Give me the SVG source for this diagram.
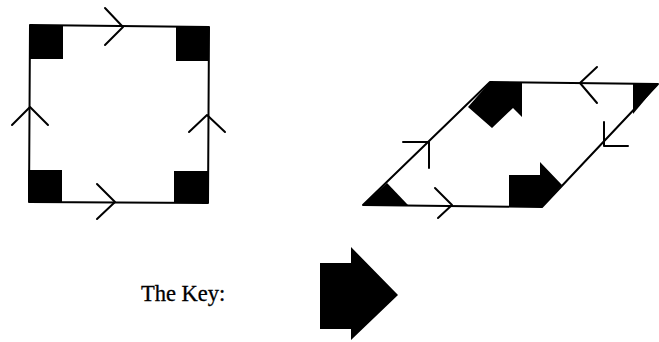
<svg xmlns="http://www.w3.org/2000/svg" width="659" height="342" viewBox="0 0 659 342">
<style>
.edge{fill:none;stroke:#000;stroke-width:2;stroke-linecap:round;stroke-linejoin:round}
.blk{fill:#000;stroke:none}
.lbl{font-family:"Liberation Serif","Times New Roman",serif;font-size:22.5px;fill:#000;stroke:#000;stroke-width:0.3}
</style>
<rect width="659" height="342" fill="#fff"/>
<g id="square">
<rect class="blk" x="30" y="25" width="33" height="34"/>
<rect class="blk" x="176" y="27" width="33" height="34"/>
<rect class="blk" x="28" y="170" width="34" height="32"/>
<rect class="blk" x="174" y="171" width="34" height="32"/>
</g>
<g id="parallelogram">
<polygon class="blk" points="490,82 522,83 522,117 513,108 492,128 468,107"/>
<polygon class="blk" points="633,84 658,84 633,114"/>
<polygon class="blk" points="363,205 408,205 387,183"/>
<polygon class="blk" points="509,175 540,175 540,162 562,185 542,207 509,207"/>
</g>
<g id="key">
<text class="lbl" x="141" y="301">The Key:</text>
<polygon class="blk" points="320,263 351,263 351,247 398,295 351,340 351,329 320,329"/>
</g>
<g id="connectors">
<polyline class="edge" points="30,25 209,27 208,203 29,202 30,25"/>
<polyline class="edge" points="105,8 123,27 105,45"/>
<polyline class="edge" points="12,125 30,107 48,125"/>
<polyline class="edge" points="189,132 207,115 225,132"/>
<polyline class="edge" points="97,184 115,202 97,219"/>
<polyline class="edge" points="490,82 658,84 542,207 363,205 490,82"/>
<polyline class="edge" points="597,67 580,83 597,103"/>
<polyline class="edge" points="604,122 604,146 628,146"/>
<polyline class="edge" points="403,142 429,142 429,168"/>
<polyline class="edge" points="435,188 452,205 438,218"/>
</g>
</svg>
